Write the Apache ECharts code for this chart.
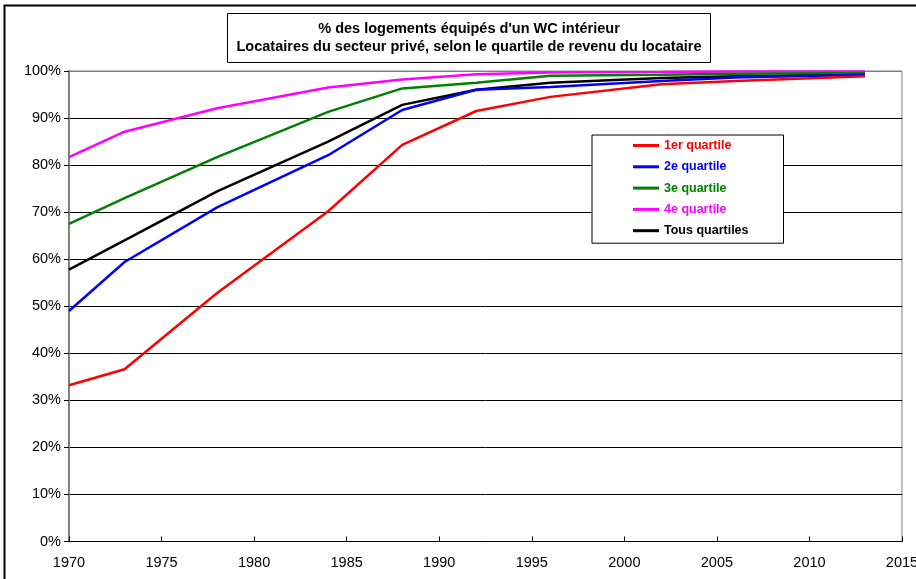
<!DOCTYPE html>
<html>
<head>
<meta charset="utf-8">
<script src="https://cdn.jsdelivr.net/npm/echarts@6/dist/echarts.min.js"></script>
<style>html,body{margin:0;padding:0;background:#fff}#c{width:916px;height:579px}</style>
</head>
<body>
<div id="c"></div>
<script>
const years = [1970, 1973, 1978, 1984, 1988, 1992, 1996, 2002, 2006, 2013];
const q1 = [33.2, 36.6, 52.8, 70.2, 84.3, 91.5, 94.5, 97.2, 97.9, 98.9];
const q2 = [49.0, 59.4, 71.0, 82.1, 91.7, 96.0, 96.6, 97.9, 98.6, 99.2];
const q3 = [67.5, 73.0, 81.7, 91.3, 96.3, 97.5, 99.0, 99.2, 99.4, 99.6];
const q4 = [81.7, 87.1, 92.1, 96.5, 98.2, 99.3, 99.7, 99.8, 99.9, 99.9];
const tous = [57.8, 64.0, 74.4, 85.0, 92.8, 96.0, 97.5, 98.5, 98.9, 99.3];
const seriesNames = ['1er quartile', '2e quartile', '3e quartile', '4e quartile', 'Tous quartiles'];
const seriesColors = ['#FF0000', '#0000FF', '#008000', '#FF00FF', '#000000'];
const seriesValues = [q1, q2, q3, q4, tous];
const titleText = "% des logements équipés d'un WC intérieur\nLocataires du secteur privé, selon le quartile de revenu du locataire";

const font = '"Liberation Sans", Arial, sans-serif';
const chart = echarts.init(document.getElementById('c'), null, {renderer: 'canvas'});
const splitColors = [];
for (let i = 0; i <= 10; i++) splitColors.push(i === 10 ? '#808080' : '#000000');

chart.setOption({
  animation: false,
  backgroundColor: '#fff',
  graphic: [{
    type: 'rect', left: 2, top: 3, z: 100, silent: true,
    shape: {x: 0, y: 0, width: 940, height: 600},
    style: {fill: 'none', stroke: '#000', lineWidth: 2}
  }],
  title: {
    text: titleText,
    left: 460, top: 13,
    textAlign: 'center',
    padding: [7, 9, 7, 9],
    borderColor: '#000', borderWidth: 1, backgroundColor: '#fff',
    textStyle: {fontFamily: font, fontSize: 14.5, fontWeight: 'bold', color: '#000', lineHeight: 18}
  },
  legend: {
    orient: 'vertical',
    left: 592, top: 135,
    padding: [4, 35, 6, 41],
    itemGap: 8.3,
    itemWidth: 26, itemHeight: 3,
    icon: 'rect',
    backgroundColor: '#fff', borderColor: '#000', borderWidth: 1,
    textStyle: {fontFamily: font, fontSize: 12.5, fontWeight: 'bold'},
    data: seriesNames.map((n, i) => ({name: n, textStyle: {color: seriesColors[i]}}))
  },
  grid: {left: 69, right: 14, top: 71, bottom: 37.5, outerBoundsMode: 'none', show: true, borderColor: '#808080', borderWidth: 1, backgroundColor: '#fff'},
  xAxis: {
    type: 'value', min: 1970, max: 2015, interval: 5,
    axisLine: {onZero: false, lineStyle: {color: '#000', width: 1}},
    axisTick: {show: true, inside: true, length: 5, lineStyle: {color: '#000'}},
    axisLabel: {fontFamily: font, fontSize: 14.5, color: '#000', margin: 14, formatter: v => String(v)},
    splitLine: {show: false}
  },
  yAxis: {
    type: 'value', min: 0, max: 100, interval: 10,
    axisLine: {show: true, lineStyle: {color: '#808080', width: 2}},
    axisTick: {show: true, inside: false, length: 5, lineStyle: {color: '#000'}},
    axisLabel: {fontFamily: font, fontSize: 14.5, color: '#000', margin: 8, formatter: v => v + '%'},
    splitLine: {show: true, lineStyle: {color: splitColors, width: 1}}
  },
  series: seriesNames.map((n, i) => ({
    name: n, type: 'line', symbol: 'none',
    data: years.map((y, j) => [y, seriesValues[i][j]]),
    lineStyle: {color: seriesColors[i], width: 2.5},
    itemStyle: {color: seriesColors[i]},
    z: 10 - i
  }))
});
</script>
</body>
</html>
